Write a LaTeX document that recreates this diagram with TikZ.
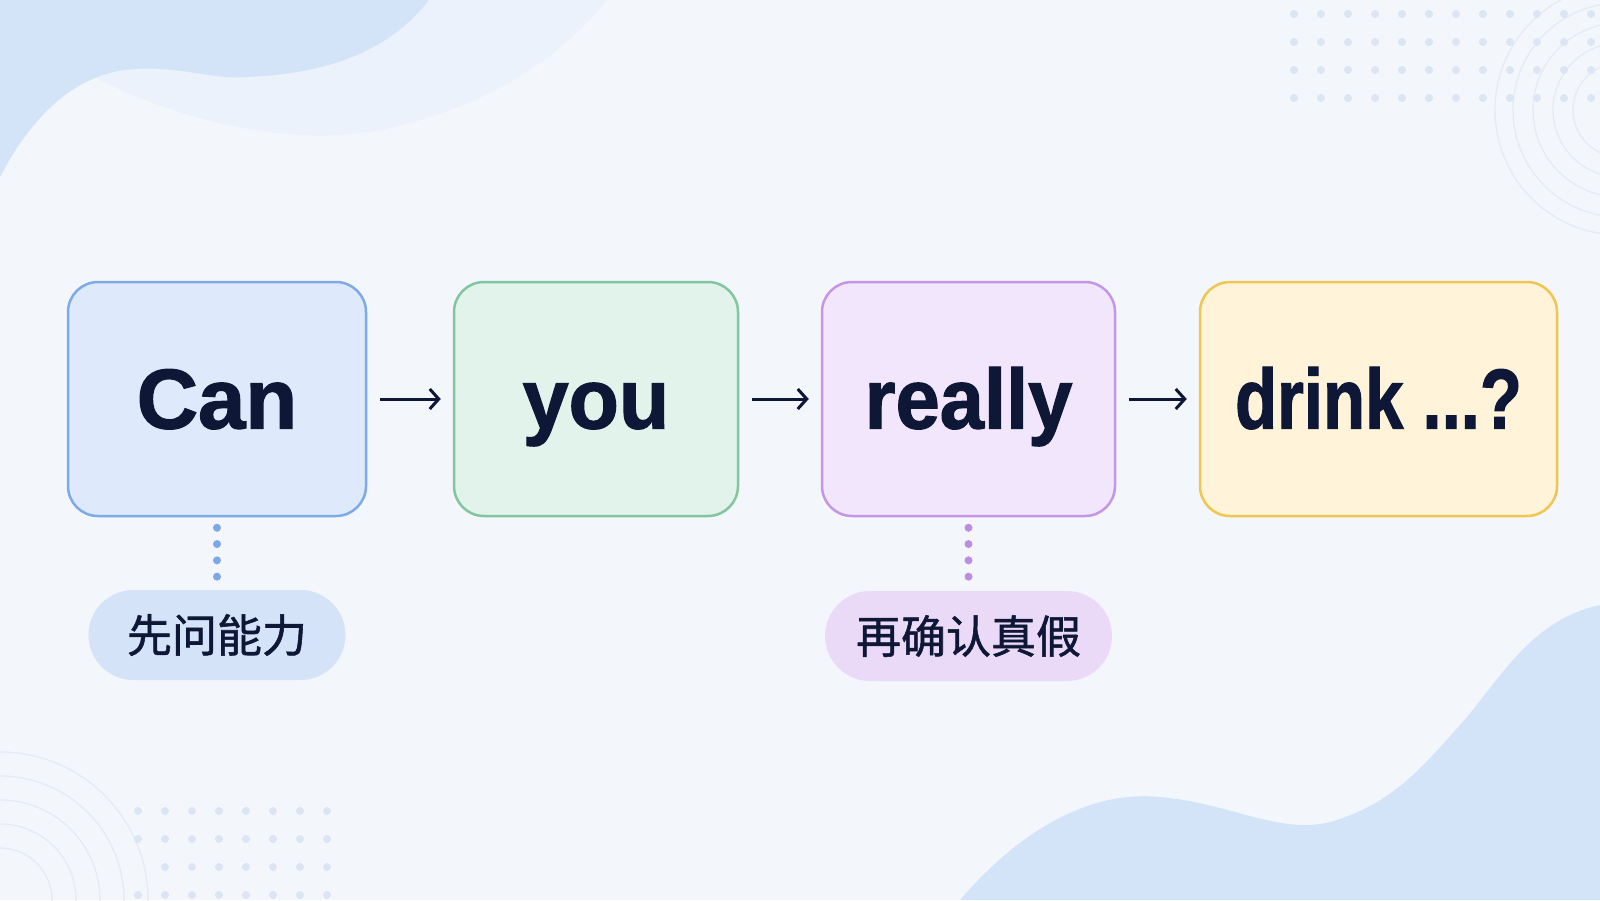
\documentclass[tikz,border=0pt]{standalone}
\usepackage{fontspec}
\setmainfont{Liberation Sans}
\newfontfamily\wordfont[FakeBold=1.5]{Liberation Sans Bold}
\newfontfamily\cjk[FakeBold=1.2]{Noto Sans CJK SC}
\usetikzlibrary{arrows.meta}
\definecolor{ink}{HTML}{0F1736}
\definecolor{bdA}{HTML}{7EAAE8}\definecolor{fiA}{HTML}{DEEAFB}
\definecolor{bdB}{HTML}{82C6A0}\definecolor{fiB}{HTML}{E1F3EA}
\definecolor{bdC}{HTML}{C596E6}\definecolor{fiC}{HTML}{F1E6FB}
\definecolor{bdD}{HTML}{F0C550}\definecolor{fiD}{HTML}{FFF3DA}
\definecolor{pillA}{HTML}{D4E3F7}\definecolor{pillB}{HTML}{EBDAF7}
\definecolor{dotA}{HTML}{7FA6E6}\definecolor{dotB}{HTML}{BC8EE0}
\definecolor{bgc}{HTML}{F3F7FC}\definecolor{blob}{HTML}{D3E3F8}
\definecolor{blobl}{HTML}{EBF2FB}\definecolor{gridc}{HTML}{DCE5F4}
\definecolor{arcc}{HTML}{E6EBF3}
\begin{document}
\begin{tikzpicture}[x=1pt,y=-1pt,
  wordbox/.style={draw, line width=2.5pt, rounded corners=30pt, minimum height=234pt,
    inner sep=0pt, text height=59pt, text depth=0pt, text=ink,
    font=\wordfont\fontsize{85}{90}\selectfont},
  pill/.style={rounded corners=45pt, minimum height=90pt, inner sep=0pt, text=ink,
    font=\cjk\fontsize{45}{50}\selectfont},
  flow/.style={draw=ink, line width=3pt, shorten <=13pt, shorten >=12pt,
    -{Straight Barb[length=9pt,width=20pt,line width=3pt]}},
  dotline/.style={line width=8pt, line cap=round, dash pattern=on 0pt off 16.3pt,
    shorten <=10.5pt, shorten >=12pt},
  griddot/.style={fill=gridc, draw=none},
  ring/.style={draw=arcc, line width=1.3pt}
]
\useasboundingbox (0,0) rectangle (1600,900);
\begin{scope}
  \clip (0,0) rectangle (1600,900);
  \fill[bgc] (0,0) rectangle (1600,900);
  % light blob top-left
  \fill[blobl] (0,0) -- (607,0) .. controls (560,60) and (480,110) .. (380,130)
     .. controls (290,148) and (180,120) .. (100,80) -- cycle;
  % dark blob top-left
  \fill[blob] (0,0) -- (429,0) .. controls (390,50) and (330,74) .. (245,77)
     .. controls (215,80) and (180,66) .. (135,69)
     .. controls (80,72) and (35,110) .. (0,177) -- cycle;
  % dark blob bottom-right
  \fill[blob] (960,900) .. controls (1020,830) and (1090,790) .. (1160,797)
     .. controls (1230,803) and (1280,835) .. (1330,822)
     .. controls (1390,805) and (1420,770) .. (1460,725)
     .. controls (1500,680) and (1530,620) .. (1600,605) -- (1600,900) -- cycle;
  % rings
  \foreach \r in {148,124,100,76,52} \draw[ring] (0,900) circle[radius=\r];
  \foreach \r in {125,107,87,67,47} \draw[ring] (1620,110) circle[radius=\r];
  % dot grids
  \foreach \i in {0,...,11} \foreach \j in {0,...,3}
    \fill[griddot] (1294+27*\i,14+28*\j) circle[radius=4];
  \foreach \i in {0,...,7} \foreach \j in {0,1,3}
    \fill[griddot] (138+27*\i,811+28*\j) circle[radius=4];
  \foreach \i in {1,...,7}
    \fill[griddot] (138+27*\i,867) circle[radius=4];
\end{scope}
% word boxes
\node[wordbox, draw=bdA, fill=fiA, minimum width=298pt] (can) at (217,399) {Can};
\node[wordbox, draw=bdB, fill=fiB, minimum width=284pt] (you) at (596,399) {\scalebox{0.97}[1]{you}};
\node[wordbox, draw=bdC, fill=fiC, minimum width=293pt] (really) at (968.5,399) {\scalebox{0.935}[1]{really}};
\node[wordbox, draw=bdD, fill=fiD, minimum width=357pt] (drink) at (1378.5,399) {\scalebox{0.81}[1]{drink ...?}};
% arrows
\draw[flow] (can) -- (you);
\draw[flow] (you) -- (really);
\draw[flow] (really) -- (drink);
% pills
\node[pill, fill=pillA, minimum width=257pt] (ability) at (217,635) {先问能力};
\node[pill, fill=pillB, minimum width=287pt] (truth) at (968.5,636) {再确认真假};
% dotted links
\draw[dotline, draw=dotA] (can.south) -- (ability.north);
\draw[dotline, draw=dotB] (really.south) -- (truth.north);
\end{tikzpicture}
\end{document}
